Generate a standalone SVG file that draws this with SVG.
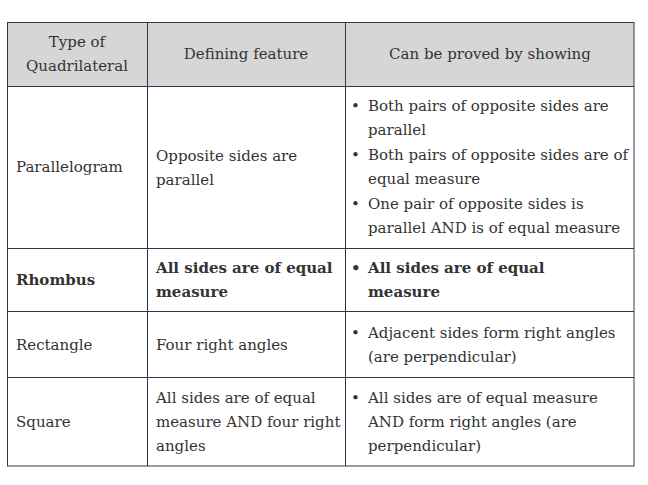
<svg xmlns="http://www.w3.org/2000/svg" width="648" height="485" viewBox="0 0 648 485">
<style>
text{font-family:"DejaVu Serif","Liberation Serif",serif;font-size:15px;fill:#333}
.b{font-weight:bold}
.h{text-anchor:middle}
line{stroke:#2b3a4a;stroke-width:1}
</style>
<rect width="648" height="485" fill="#fff"/>
<rect x="7" y="22" width="627" height="64" fill="#d6d6d6"/>
<g id="grid">
<rect x="7.5" y="22.5" width="626.5" height="443.5" fill="none" stroke="#2b3a4a"/>
<line x1="147.5" y1="22" x2="147.5" y2="466"/>
<line x1="345.5" y1="22" x2="345.5" y2="466"/>
<line x1="7" y1="86.5" x2="634" y2="86.5"/>
<line x1="7" y1="248.5" x2="634" y2="248.5"/>
<line x1="7" y1="311.5" x2="634" y2="311.5"/>
<line x1="7" y1="377.5" x2="634" y2="377.5"/>
</g>
<g id="header">
<text class="h" x="77" y="47">Type of</text>
<text class="h" x="77" y="71">Quadrilateral</text>
<text class="h" x="246" y="59">Defining feature</text>
<text class="h" x="490" y="59">Can be proved by showing</text>
</g>
<g id="parallelogram">
<text x="16" y="172">Parallelogram</text>
<text x="156" y="161">Opposite sides are</text>
<text x="156" y="185">parallel</text>
<text x="351" y="111">•</text><text x="368" y="111">Both pairs of opposite sides are</text>
<text x="368" y="135">parallel</text>
<text x="351" y="160">•</text><text x="368" y="160">Both pairs of opposite sides are of</text>
<text x="368" y="184">equal measure</text>
<text x="351" y="209">•</text><text x="368" y="209">One pair of opposite sides is</text>
<text x="368" y="233">parallel AND is of equal measure</text>
</g>
<g id="rhombus">
<text class="b" x="16" y="285">Rhombus</text>
<text class="b" x="156" y="273">All sides are of equal</text>
<text class="b" x="156" y="297">measure</text>
<text class="b" x="351" y="273">•</text><text class="b" x="368" y="273">All sides are of equal</text>
<text class="b" x="368" y="297">measure</text>
</g>
<g id="rectangle">
<text x="16" y="350">Rectangle</text>
<text x="156" y="350">Four right angles</text>
<text x="351" y="338">•</text><text x="368" y="338">Adjacent sides form right angles</text>
<text x="368" y="362">(are perpendicular)</text>
</g>
<g id="square">
<text x="16" y="427">Square</text>
<text x="156" y="403">All sides are of equal</text>
<text x="156" y="427">measure AND four right</text>
<text x="156" y="451">angles</text>
<text x="351" y="403">•</text><text x="368" y="403">All sides are of equal measure</text>
<text x="368" y="427">AND form right angles (are</text>
<text x="368" y="451">perpendicular)</text>
</g>
</svg>
